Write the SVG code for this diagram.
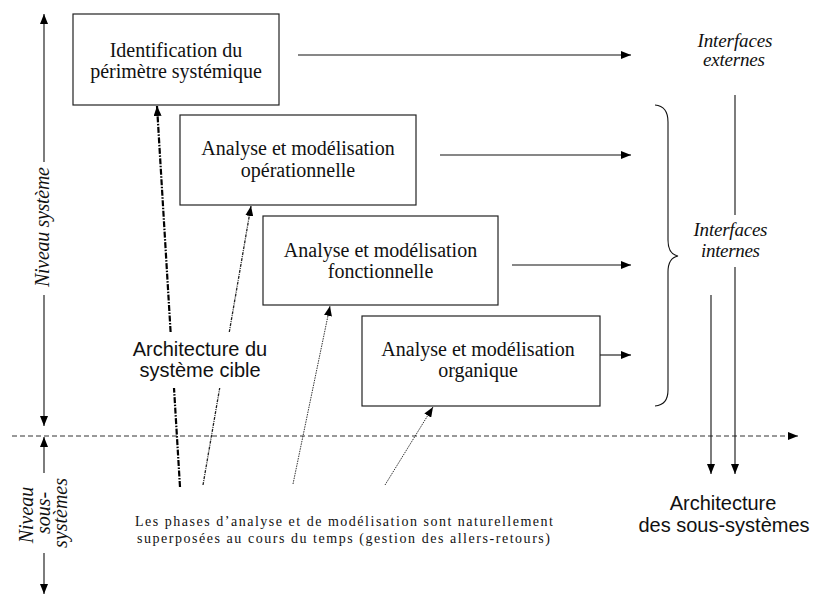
<svg xmlns="http://www.w3.org/2000/svg" width="813" height="595" viewBox="0 0 813 595">
  <style>
    .box { fill: #fff; stroke: #222; stroke-width: 1.2; }
    .t { font-family: "Liberation Serif", "Times New Roman", serif; font-size: 20px; fill: #111; text-anchor: middle; }
    .ti { font-family: "Liberation Serif", "Times New Roman", serif; font-size: 19px; font-style: italic; fill: #111; text-anchor: middle; }
    .ts { font-family: "Liberation Sans", Arial, sans-serif; font-size: 20px; fill: #111; text-anchor: middle; }
    .tn { font-family: "Liberation Serif", "Times New Roman", serif; font-size: 14px; fill: #111; text-anchor: middle; }
    .ln { fill: none; stroke: #111; stroke-width: 1.1; }
    .dash { fill: none; stroke: #333; stroke-width: 1; stroke-dasharray: 5 3; }
    .dd1 { fill: none; stroke: #000; stroke-width: 2.2; stroke-dasharray: 6 1.5 1.5 1.5; }
    .dd2 { fill: none; stroke: #222; stroke-width: 1.3; stroke-dasharray: 3 1 1 1; }
    .dot { fill: none; stroke: #333; stroke-width: 1; stroke-dasharray: 1.5 1; }
  </style>
  <defs>
    <marker id="ah" viewBox="0 0 10 8" refX="10" refY="4" markerWidth="10" markerHeight="8" markerUnits="userSpaceOnUse" orient="auto">
      <path d="M0,0 L10,4 L0,8 z" fill="#000"/>
    </marker>
  </defs>

  <rect width="813" height="595" fill="#fff"/>

  <g id="connectors">
    <!-- left level axis -->
    <path class="ln" d="M44,162 L44,14" marker-end="url(#ah)"/>
    <path class="ln" d="M44,295 L44,426" marker-end="url(#ah)"/>
    <path class="ln" d="M44,473 L44,437" marker-end="url(#ah)"/>
    <path class="ln" d="M44,553 L44,594" marker-end="url(#ah)"/>
    <!-- horizontal dashed time axis -->
    <path class="dash" d="M12,436 L798,436" marker-end="url(#ah)"/>
    <!-- arrows to interfaces -->
    <path class="ln" d="M298,55 L631,55" marker-end="url(#ah)"/>
    <path class="ln" d="M440,155 L631,155" marker-end="url(#ah)"/>
    <path class="ln" d="M512,265 L631,265" marker-end="url(#ah)"/>
    <path class="ln" d="M600,355 L631,355" marker-end="url(#ah)"/>
    <!-- brace -->
    <path class="ln" d="M655,105 Q668,106 668,122 L668,240 Q668,254 678,256 Q668,258 668,272 L668,390 Q668,405 655,406"/>
    <!-- vertical lines to sub-system architecture -->
    <path class="ln" d="M735,95 L735,215"/>
    <path class="ln" d="M735,267 L735,474" marker-end="url(#ah)"/>
    <path class="ln" d="M711,295 L711,474" marker-end="url(#ah)"/>
    <!-- dotted phase arrows -->
    <path class="dd1" d="M180,487 L174,388 M170.6,332 L157,106" marker-end="url(#ah)"/>
    <path class="dd2" d="M203,485 L219.7,388 M229.3,332 L251,206" marker-end="url(#ah)"/>
    <path class="dot" d="M293,484 L330,306" marker-end="url(#ah)"/>
    <path class="dot" d="M385,485 L433,407" marker-end="url(#ah)"/>
  </g>

  <g id="node-identification">
    <rect class="box" x="73" y="14" width="206" height="91"/>
    <text class="t" x="176" y="57">Identification du</text>
    <text class="t" x="176" y="78">périmètre systémique</text>
  </g>
  <g id="node-operationnelle">
    <rect class="box" x="180" y="115" width="236" height="90"/>
    <text class="t" x="298" y="155">Analyse et modélisation</text>
    <text class="t" x="298" y="177">opérationnelle</text>
  </g>
  <g id="node-fonctionnelle">
    <rect class="box" x="263" y="216" width="235" height="89"/>
    <text class="t" x="380.5" y="257">Analyse et modélisation</text>
    <text class="t" x="380.5" y="278">fonctionnelle</text>
  </g>
  <g id="node-organique">
    <rect class="box" x="362" y="316" width="238" height="90"/>
    <text class="t" x="478" y="356">Analyse et modélisation</text>
    <text class="t" x="478" y="377">organique</text>
  </g>

  <g id="label-interfaces-externes">
    <text class="ti" x="735" y="47" textLength="75" lengthAdjust="spacing">Interfaces</text>
    <text class="ti" x="734" y="66" textLength="62" lengthAdjust="spacing">externes</text>
  </g>
  <g id="label-interfaces-internes">
    <text class="ti" x="730.5" y="236" textLength="74" lengthAdjust="spacing">Interfaces</text>
    <text class="ti" x="730.5" y="257" textLength="59" lengthAdjust="spacing">internes</text>
  </g>

  <g id="label-niveau-systeme">
    <text class="ti" font-size="20" transform="translate(49,227) rotate(-90)" style="font-size:20px" textLength="120" lengthAdjust="spacing">Niveau système</text>
  </g>
  <g id="label-niveau-sous-systemes">
    <text class="ti" style="font-size:20px" transform="translate(33,515) rotate(-90)">Niveau</text>
    <text class="ti" style="font-size:20px" transform="translate(50,513) rotate(-90)">sous-</text>
    <text class="ti" style="font-size:20px" transform="translate(67,513) rotate(-90)">systèmes</text>
  </g>

  <g id="label-architecture-systeme">
    <text class="ts" x="200" y="356">Architecture du</text>
    <text class="ts" x="200" y="377">système cible</text>
  </g>
  <g id="label-architecture-sous-systemes">
    <text class="ts" x="723" y="510">Architecture</text>
    <text class="ts" x="724" y="532">des sous-systèmes</text>
  </g>

  <g id="label-phases">
    <text class="tn" x="344" y="526" textLength="418" lengthAdjust="spacing">Les phases d’analyse et de modélisation sont naturellement</text>
    <text class="tn" x="343.5" y="543" textLength="413" lengthAdjust="spacing">superposées au cours du temps (gestion des allers-retours)</text>
  </g>
</svg>
